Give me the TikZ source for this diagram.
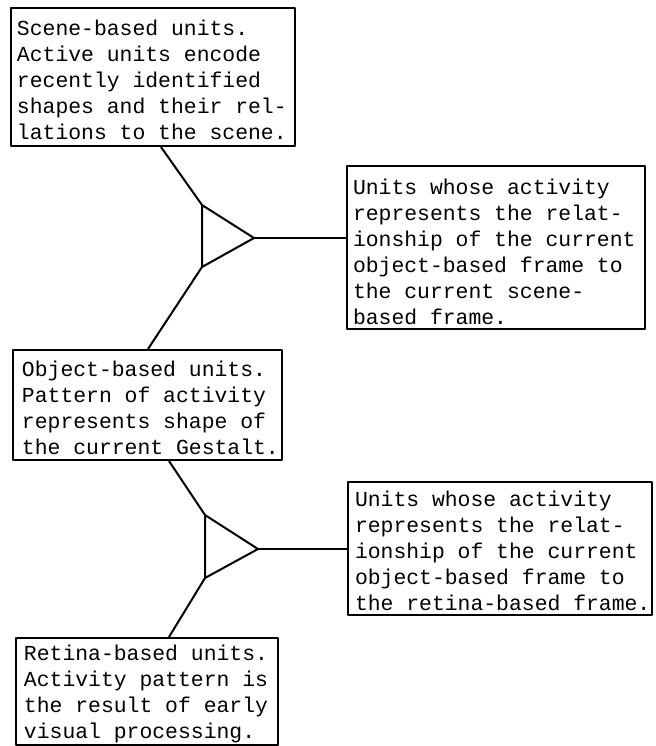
\documentclass[tikz,border=0pt]{standalone}
\usepackage{fontspec}
\setmonofont{Liberation Mono}
\usetikzlibrary{calc}
\begin{document}
\begin{tikzpicture}[x=0.5pt,y=-0.5pt,line width=1pt,line join=round,
  boxnode/.style={draw,rectangle,inner sep=0pt},
  labeltext/.style={anchor=west,align=left,inner sep=0pt,font=\ttfamily\fontsize{10.7}{13}\selectfont},
  link/.style={line width=1pt}]
\useasboundingbox (0,0) rectangle (655,746);
% boxes
\node[boxnode,minimum width=142pt,minimum height=69pt] (b1) at (153,77) {};
\node[labeltext] (t1) at ($(b1.west)+(6,3)$) {Scene-based units.\\Active units encode\\recently identified\\shapes and their rel-\\lations to the scene.};
\node[boxnode,minimum width=149pt,minimum height=81.5pt] (b2) at (496,247.5) {};
\node[labeltext] (t2) at ($(b2.west)+(6,4)$) {Units whose activity\\represents the relat-\\ionship of the current\\object-based frame to\\the current scene-\\based frame.};
\node[boxnode,minimum width=134.5pt,minimum height=55pt] (b3) at (147.5,405) {};
\node[labeltext] (t3) at ($(b3.west)+(9,3)$) {Object-based units.\\Pattern of activity\\represents shape of\\the current Gestalt.};
\node[boxnode,minimum width=152pt,minimum height=66.5pt] (b4) at (500,548.5) {};
\node[labeltext] (t4) at ($(b4.west)+(7,2.5)$) {Units whose activity\\represents the relat-\\ionship of the current\\object-based frame to\\the retina-based frame.};
\node[boxnode,minimum width=131pt,minimum height=53.5pt] (b5) at (147,691.5) {};
\node[labeltext] (t5) at ($(b5.west)+(8,2.5)$) {Retina-based units.\\Activity pattern is\\the result of early\\visual processing.};
% first junction
\coordinate (p1) at (202,205);
\coordinate (p2) at (202,267);
\coordinate (p3) at (254,238);
\draw[link] (p1) -- (p2) -- (p3) -- cycle;
\draw[link] ($(b1.south west)+(151,0)$) -- (p1);
\draw[link] (p2) -- ($(b3.north west)+(136,0)$);
\draw[link] (p3) -- (p3 -| b2.west);
% second junction
\coordinate (q1) at (205,515);
\coordinate (q2) at (205,578);
\coordinate (q3) at (258,549);
\draw[link] (q1) -- (q2) -- (q3) -- cycle;
\draw[link] ($(b3.south west)+(157,0)$) -- (q1);
\draw[link] (q2) -- ($(b5.north west)+(154,0)$);
\draw[link] (q3) -- (q3 -| b4.west);
\end{tikzpicture}
\end{document}
